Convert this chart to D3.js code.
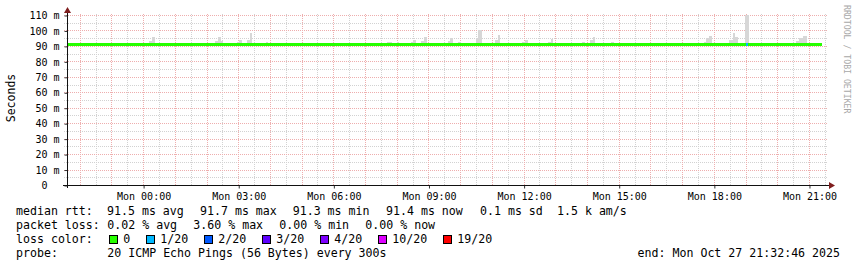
<!DOCTYPE html>
<html>
<head>
<meta charset="utf-8">
<script src="https://cdn.jsdelivr.net/npm/d3@7"></script>
<style>
  body { margin: 0; background: #fff; }
  text { font-family: "DejaVu Sans Mono", monospace; white-space: pre; }
</style>
</head>
<body>
<svg></svg>
<script>
// median rtt, step segments (start time, ms, lost pings out of 20)
const medianFrom = ['2025-10-26 21:36', '2025-10-27 04:55', '2025-10-27 05:05', '2025-10-27 05:15',
  '2025-10-27 05:30', '2025-10-27 05:45', '2025-10-27 05:55', '2025-10-27 11:55', '2025-10-27 12:00',
  '2025-10-27 12:25', '2025-10-27 12:30', '2025-10-27 19:00', '2025-10-27 19:05'];
const medianEnd = '2025-10-27 21:25';
const medianMs = [91.5, 91.0, 91.5, 91.0, 91.5, 91.0, 91.5, 91.0, 91.5, 91.0, 91.5, 91.5, 91.5];
const medianLoss = [0, 0, 0, 0, 0, 0, 0, 0, 0, 0, 0, 1, 0];

// smoke (spread of the 20 pings above the median), Monday times
const smokeFrom = ['00:11', '00:17', '02:16', '02:22', '02:27', '02:58', '03:02', '03:17', '03:22', '03:52',
  '07:41', '08:00', '08:27', '08:31', '08:46', '08:51', '09:37', '09:41', '09:56', '10:30', '10:34',
  '11:06', '11:11', '11:57', '12:02', '12:46', '12:52', '13:50', '14:05', '14:11', '14:45', '17:01',
  '17:41', '17:45', '17:51', '18:28', '18:36', '18:40', '18:59', '20:35', '20:41', '20:48'];
const smokeTo = ['00:17', '00:22', '02:22', '02:27', '02:31', '03:02', '03:07', '03:22', '03:26', '03:56',
  '07:51', '08:04', '08:31', '08:36', '08:51', '08:57', '09:41', '09:46', '10:01', '10:34', '10:41',
  '11:11', '11:15', '12:02', '12:08', '12:52', '12:55', '13:56', '14:11', '14:15', '14:51', '17:05',
  '17:45', '17:51', '17:56', '18:36', '18:40', '18:45', '19:06', '20:41', '20:48', '20:56'];
const smokeMax = [93.2, 95.8, 93.0, 95.8, 93.0, 92.7, 93.8, 94.0, 98.4, 92.7,
  92.7, 92.7, 92.7, 94.0, 93.2, 95.8, 93.2, 95.0, 92.7, 95.0, 100.1,
  94.0, 97.0, 92.7, 94.0, 92.7, 94.5, 92.7, 94.0, 95.8, 92.7, 92.2,
  92.5, 95.0, 96.4, 93.8, 98.4, 95.6, 110.2, 93.0, 95.0, 96.4];

const lossLabels = ['0', '1/20', '2/20', '3/20', '4/20', '10/20', '19/20'];
const lossColors = ['#26ff00', '#00b8ff', '#0059ff', '#5e00ff', '#7e00ff', '#dd00ff', '#ff0000'];

const medianStats = ['91.5 ms avg', '91.7 ms max', '91.3 ms min', '91.4 ms now', '0.1 ms sd', '1.5 k am/s'];
const lossStats = ['0.02 % avg', '3.60 % max', '0.00 % min', '0.00 % now'];

const WIDTH = 857;
const HEIGHT = 267;
const LEFT = 67;
const RIGHT = 828;
const BOTTOM = 185;
const TOP = 15;
const GRID_MAJOR = '#eeaeae';
const GRID_MINOR = '#d2d2d2';
const ARROW = '#7f1e1e';

const parseFull = d3.timeParse('%Y-%m-%d %H:%M');
const parseMon = t => parseFull('2025-10-27 ' + t);

const svg = d3.select('svg')
  .attr('width', WIDTH)
  .attr('height', HEIGHT);

const start = parseFull('2025-10-26 21:36');
const end = parseFull('2025-10-27 21:36');

const xScale = d3.scaleTime().domain([start, end]).range([LEFT, RIGHT]);
const yScale = d3.scaleLinear().domain([0, 110]).range([BOTTOM, TOP]);
const px = v => Math.round(v) + 0.5;

/* --GRID-- */
const grid = svg.append('g').attr('shape-rendering', 'crispEdges').attr('stroke-dasharray', '1,1');

d3.range(5, 110, 10).forEach(v => {
  grid.append('line')
    .attr('x1', LEFT - 3).attr('x2', RIGHT)
    .attr('y1', px(yScale(v))).attr('y2', px(yScale(v)))
    .attr('stroke', GRID_MINOR);
});
xScale.ticks(d3.timeMinute.every(30)).filter(d => d.getMinutes() == 30).forEach(d => {
  grid.append('line')
    .attr('x1', px(xScale(d))).attr('x2', px(xScale(d)))
    .attr('y1', BOTTOM).attr('y2', TOP - 2)
    .attr('stroke', GRID_MINOR);
});
d3.range(10, 111, 10).forEach(v => {
  grid.append('line')
    .attr('x1', LEFT - 3).attr('x2', RIGHT)
    .attr('y1', px(yScale(v))).attr('y2', px(yScale(v)))
    .attr('stroke', GRID_MAJOR);
});
xScale.ticks(d3.timeHour.every(1)).forEach(d => {
  grid.append('line')
    .attr('x1', px(xScale(d))).attr('x2', px(xScale(d)))
    .attr('y1', BOTTOM).attr('y2', TOP - 2)
    .attr('stroke', GRID_MAJOR);
});

/* --SMOKE-- */
svg.append('g')
  .attr('shape-rendering', 'crispEdges')
  .selectAll('rect')
  .data(smokeFrom.map((f, i) => [parseMon(f), parseMon(smokeTo[i]), smokeMax[i]]))
  .enter()
  .append('rect')
  .attr('x', d => Math.round(xScale(d[0])))
  .attr('width', d => Math.round(xScale(d[1])) - Math.round(xScale(d[0])))
  .attr('y', d => Math.round(yScale(d[2])))
  .attr('height', d => Math.round(yScale(90)) - Math.round(yScale(d[2])))
  .attr('fill', '#d7d7d7');

/* --MEDIAN LINE, coloured by loss-- */
const lossColor = n => lossColors[lossLabels.indexOf(n == 0 ? '0' : n + '/20')];
const segs = medianFrom.map((f, i) => ({
  t0: parseFull(f),
  t1: parseFull(i + 1 < medianFrom.length ? medianFrom[i + 1] : medianEnd),
  v: medianMs[i],
  loss: medianLoss[i]
}));
svg.append('g')
  .attr('shape-rendering', 'crispEdges')
  .selectAll('rect')
  .data(segs)
  .enter()
  .append('rect')
  .attr('x', d => Math.round(xScale(d.t0)))
  .attr('width', d => Math.round(xScale(d.t1)) - Math.round(xScale(d.t0)))
  .attr('y', d => Math.round(yScale(d.v)) - 1)
  .attr('height', 3)
  .attr('fill', d => lossColor(d.loss));

/* --AXES-- */
const yAxis = d3.axisLeft(yScale)
  .tickValues(d3.range(0, 111, 10))
  .tickSize(3)
  .tickPadding(5)
  .tickFormat(v => v == 0 ? '0  ' : `${v} m`);
const yg = svg.append('g')
  .attr('transform', `translate(${LEFT + 0.5}, 0.5)`)
  .call(yAxis);
yg.select('.domain').remove();
yg.selectAll('.tick line').attr('stroke', '#333');
yg.selectAll('text').attr('font-size', '10px').attr('fill', '#000')
  .attr('font-family', '"DejaVu Sans Mono", monospace');

const xAxis = d3.axisBottom(xScale)
  .ticks(d3.timeHour.every(3))
  .tickSize(3)
  .tickPadding(4)
  .tickFormat(d3.timeFormat('%a %H:%M'));
const xg = svg.append('g')
  .attr('transform', `translate(0.5, ${BOTTOM + 0.5})`)
  .call(xAxis);
xg.select('.domain').remove();
xg.selectAll('.tick line').attr('stroke', '#333');
xg.selectAll('text').attr('font-size', '10px').attr('fill', '#000')
  .attr('font-family', '"DejaVu Sans Mono", monospace');

svg.append('line')
  .attr('x1', LEFT - 4).attr('x2', RIGHT + 2)
  .attr('y1', BOTTOM + 0.5).attr('y2', BOTTOM + 0.5)
  .attr('stroke', '#111').attr('shape-rendering', 'crispEdges');
svg.append('line')
  .attr('x1', LEFT + 0.5).attr('x2', LEFT + 0.5)
  .attr('y1', BOTTOM + 3).attr('y2', 10)
  .attr('stroke', '#111').attr('shape-rendering', 'crispEdges');

svg.append('path')
  .attr('d', `M${LEFT + 0.5},7 L${LEFT + 4},13 L${LEFT - 3},13 Z`)
  .attr('fill', ARROW);
svg.append('path')
  .attr('d', `M${RIGHT + 7},${BOTTOM + 0.5} L${RIGHT + 1},${BOTTOM - 3} L${RIGHT + 1},${BOTTOM + 4} Z`)
  .attr('fill', ARROW);

svg.append('text')
  .text('Seconds')
  .attr('transform', `translate(15, 98) rotate(-90)`)
  .attr('text-anchor', 'middle')
  .attr('font-size', '11.5px')
  .attr('fill', '#000');

svg.append('text')
  .text('RRDTOOL / TOBI OETIKER')
  .attr('transform', `translate(844, 5) rotate(90)`)
  .attr('font-size', '8.2px')
  .attr('fill', '#a8a8a8');

/* --LEGEND-- */
const legend = svg.append('g').attr('font-size', '11.6px').attr('fill', '#000');
const row = (y, label) => legend.append('text').attr('x', 16).attr('y', y).text(label);

row(215, 'median rtt:');
[107, 200, 292.7, 386, 480, 557].forEach((x, i) => {
  legend.append('text').attr('x', x).attr('y', 215).text(medianStats[i]);
});

row(229, 'packet loss:');
[107.3, 193.3, 279.3, 365.3].forEach((x, i) => {
  legend.append('text').attr('x', x).attr('y', 229).text(lossStats[i]);
});

row(243, 'loss color:');
let lx = 108.7;
lossLabels.forEach((l, i) => {
  legend.append('rect')
    .attr('x', Math.round(lx) + 0.5).attr('y', 235.5)
    .attr('width', 8).attr('height', 8)
    .attr('fill', lossColors[i])
    .attr('stroke', '#000').attr('stroke-width', 1);
  legend.append('text').attr('x', lx + 14.6).attr('y', 243).text(l);
  lx += 30 + 7 * l.length;
});

row(257, 'probe:');
legend.append('text').attr('x', 107.3).attr('y', 257).text('20 ICMP Echo Pings (56 Bytes) every 300s');
legend.append('text').attr('x', 840).attr('y', 257).attr('text-anchor', 'end')
  .text('end: Mon Oct 27 21:32:46 2025');
</script>
</body>
</html>
